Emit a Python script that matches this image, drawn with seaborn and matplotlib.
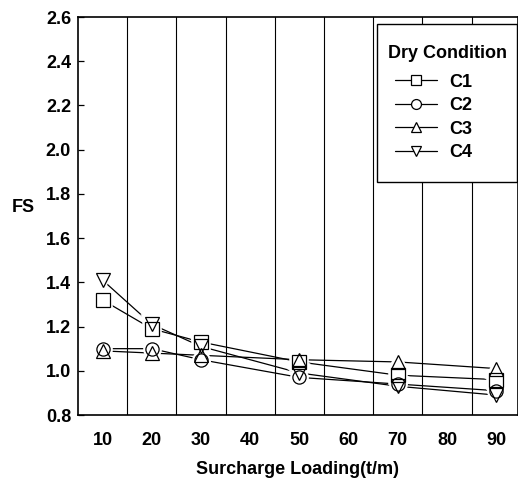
import matplotlib
matplotlib.use("Agg")
import matplotlib.pyplot as plt
from matplotlib.patches import Rectangle
from matplotlib.lines import Line2D
import seaborn as sns
import numpy as np
import pandas as pd

# Surcharge loading (t/m) and factor of safety per case, dry condition
loading = [10, 20, 30, 50, 70, 90]
fs_c1 = [1.32, 1.19, 1.13, 1.04, 0.98, 0.96]
fs_c2 = [1.10, 1.10, 1.05, 0.97, 0.94, 0.91]
fs_c3 = [1.09, 1.08, 1.07, 1.05, 1.04, 1.01]
fs_c4 = [1.41, 1.21, 1.11, 0.99, 0.93, 0.89]
cases = ["C1", "C2", "C3", "C4"]
case_markers = {"C1": "s", "C2": "o", "C3": "^", "C4": "v"}
x_ticks = [10, 20, 30, 40, 50, 60, 70, 80, 90]
y_ticks = [0.8, 1.0, 1.2, 1.4, 1.6, 1.8, 2.0, 2.2, 2.4, 2.6]

df = pd.DataFrame({
    "loading": loading * 4,
    "fs": fs_c1 + fs_c2 + fs_c3 + fs_c4,
    "case": [c for c in cases for _ in loading],
})

sns.set_theme(style="white")
plt.rcParams["font.family"] = ["Liberation Sans", "DejaVu Sans"]
plt.rcParams["font.weight"] = "bold"
for key in ["text.color", "axes.labelcolor", "xtick.color", "ytick.color"]:
    plt.rcParams[key] = "black"

fig = plt.figure(figsize=(5.18, 4.82), dpi=100)
ax = fig.add_axes([78 / 518, 67 / 482, 440 / 518, 398 / 482])

# connecting lines first
sns.lineplot(data=df, x="loading", y="fs", hue="case", palette=["black"] * 4,
             linewidth=0.9, legend=False, ax=ax, zorder=2)
# white halo round each marker, so lines stop short of the symbols
sns.lineplot(data=df, x="loading", y="fs", hue="case", style="case",
             palette=["white"] * 4, markers=case_markers, dashes=False,
             linestyle="", markersize=9.5, markerfacecolor="white",
             markeredgecolor="white", markeredgewidth=4,
             legend=False, ax=ax, zorder=3)
# hollow black markers
sns.lineplot(data=df, x="loading", y="fs", hue="case", style="case",
             palette=["black"] * 4, markers=case_markers, dashes=False,
             linestyle="", markersize=9.5, markerfacecolor="none",
             markeredgecolor="black", markeredgewidth=0.9,
             legend=False, ax=ax, zorder=3.5)

ax.set_xlim(5, 5 + 440 / 4.92)
ax.set_ylim(0.8, 2.6)
ax.set_xticks(x_ticks)
ax.set_xticks(np.arange(15, 90, 10), minor=True)
ax.set_yticks(y_ticks)
ax.set_yticklabels([f"{v:.1f}" for v in y_ticks], fontsize=13, fontweight="bold")
ax.set_xticklabels([str(v) for v in x_ticks], fontsize=13, fontweight="bold")
ax.tick_params(axis="x", which="both", length=0, pad=12)
ax.tick_params(axis="y", direction="in", length=4, width=0.9, color="black", pad=5, left=True)
ax.grid(axis="x", which="minor", color="black", linewidth=0.8)
ax.grid(axis="y", visible=False)

for side in ["left", "bottom", "top", "right"]:
    ax.spines[side].set_color("black")
    ax.spines[side].set_linewidth(1.2)

ax.set_xlabel("Surcharge Loading(t/m)", fontsize=13, fontweight="bold", labelpad=9)
ax.set_ylabel("FS", fontsize=13, fontweight="bold", rotation=0)
ax.yaxis.set_label_coords(-0.125, 0.5)

# legend box: frame, title and entries placed separately
ax.add_patch(Rectangle((0.6795, 0.585), 0.3175, 0.397, transform=ax.transAxes,
                       facecolor="white", edgecolor="black", linewidth=1.0,
                       zorder=4, clip_on=False))
ax.text(0.84, 0.9095, "Dry Condition", transform=ax.transAxes, ha="center",
        va="center", fontsize=13, fontweight="bold", zorder=6)
handles = [Line2D([], [], color="black", linewidth=0.9, marker=case_markers[c],
                  markersize=9.5, markerfacecolor="white", markeredgecolor="black",
                  markeredgewidth=0.9) for c in cases]
leg = ax.legend(handles, cases, loc="upper left", bbox_to_anchor=(0.7205, 0.858),
                borderaxespad=0, borderpad=0, frameon=False,
                prop={"size": 13, "weight": "bold"},
                labelspacing=0.36, handlelength=2.3,
                handletextpad=0.7, markerscale=0.75)
leg.set_zorder(6)

fig.savefig("out.png", dpi=100)
